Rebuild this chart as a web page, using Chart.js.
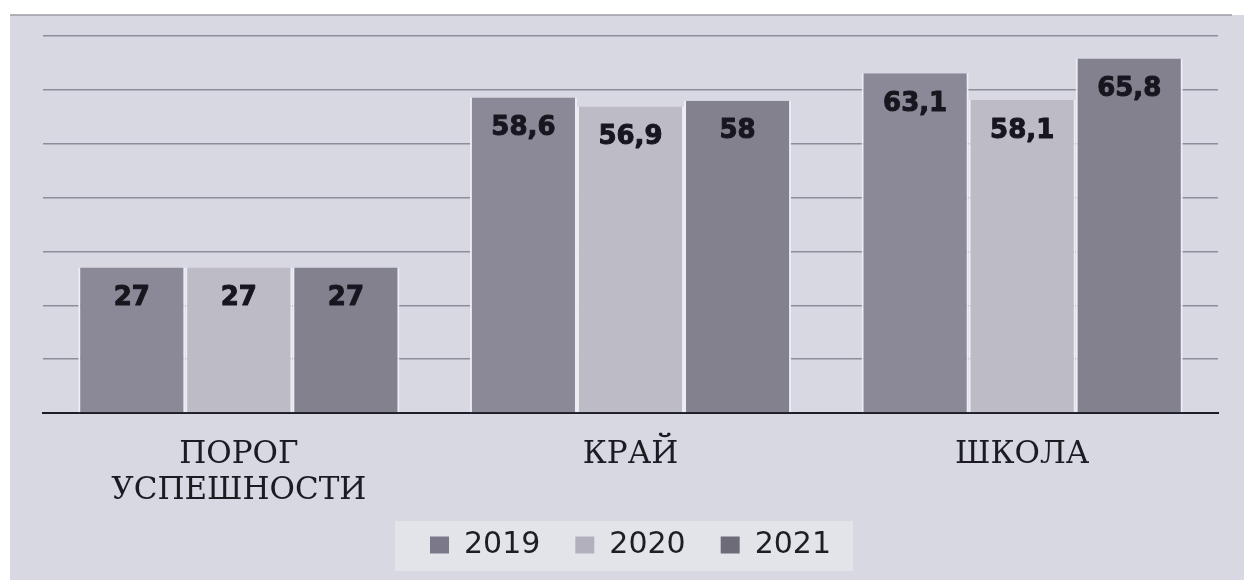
<!DOCTYPE html>
<html>
<head>
<meta charset="utf-8">
<script src="https://cdn.jsdelivr.net/npm/chart.js@4.4.1/dist/chart.umd.min.js"></script>
<style>
  html, body { margin: 0; padding: 0; background: #fff; }
  #wrap { width: 1244px; height: 580px; }
</style>
</head>
<body>
<div id="wrap"><canvas id="barChart" width="1244" height="580"></canvas></div>
<script>
// categories and values
const categories = [["ПОРОГ", "УСПЕШНОСТИ"], "КРАЙ", "ШКОЛА"];
const years = ["2019", "2020", "2021"];
const values2019 = [27, 58.6, 63.1];
const values2020 = [27, 56.9, 58.1];
const values2021 = [27, 58, 65.8];
const yTicks = [0, 10, 20, 30, 40, 50, 60, 70];

const barColors = ["#8b8898", "#bcbbc6", "#84818f"];
const boxColors = ["#7b788a", "#b1b0bc", "#6c6b77"];

// grey scanned-paper background, top rule, legend panel
const paperPlugin = {
  id: "paper",
  beforeDraw(chart) {
    const ctx = chart.ctx;
    ctx.save();
    ctx.fillStyle = "#ffffff";
    ctx.fillRect(0, 0, chart.width, chart.height);
    ctx.fillStyle = "#d7d8e1";
    ctx.fillRect(10, 15, chart.width - 10, chart.height - 15);
    ctx.strokeStyle = "#9c9ca6";
    ctx.lineWidth = 1.5;
    ctx.beginPath();
    ctx.moveTo(10, 15);
    ctx.lineTo(chart.width - 12, 15);
    ctx.stroke();
    const boxes = chart.legend && chart.legend.legendHitBoxes;
    if (boxes && boxes.length) {
      const left = Math.min(...boxes.map(b => b.left)) - 35;
      const right = Math.max(...boxes.map(b => b.left + b.width)) + 22;
      const mid = boxes[0].top + boxes[0].height / 2;
      ctx.fillStyle = "#e3e4ea";
      ctx.fillRect(left, mid - 24, right - left, 50);
    }
    ctx.restore();
  }
};

// value labels inside the top of each bar
const valueLabels = {
  id: "valueLabels",
  afterDatasetsDraw(chart) {
    const ctx = chart.ctx;
    ctx.save();
    ctx.font = "bold 26px 'DejaVu Sans'";
    ctx.fillStyle = "#17161e";
    ctx.strokeStyle = "#17161e";
    ctx.lineWidth = 1;
    ctx.lineJoin = "round";
    ctx.textAlign = "center";
    ctx.textBaseline = "middle";
    chart.data.datasets.forEach((ds, i) => {
      const meta = chart.getDatasetMeta(i);
      meta.data.forEach((bar, j) => {
        const txt = String(ds.data[j]).replace(".", ",");
        ctx.strokeText(txt, bar.x, bar.y + 31);
        ctx.fillText(txt, bar.x, bar.y + 31);
      });
    });
    ctx.restore();
  }
};

const ctx = document.getElementById("barChart").getContext("2d");
const allValues = [values2019, values2020, values2021];

new Chart(ctx, {
  type: "bar",
  data: {
    labels: categories,
    datasets: years.map((y, i) => ({
      label: y,
      data: allValues[i],
      backgroundColor: barColors[i],
      borderColor: "#eceef3",
      borderWidth: { left: 2, right: 2, top: 0, bottom: 0 },
      borderSkipped: false,
      categoryPercentage: 0.82,
      barPercentage: 1
    }))
  },
  options: {
    responsive: false,
    animation: false,
    layout: { padding: { left: 43, right: 26, top: 36, bottom: 10 } },
    scales: {
      x: {
        grid: { display: false, drawTicks: false },
        border: { display: true, color: "#1d1d25", width: 2 },
        ticks: {
          color: "#1c1b22",
          padding: 24,
          font: { family: "'DejaVu Serif'", size: 31, lineHeight: 1.17 }
        },
        afterFit(scale) { scale.height = 97; }
      },
      y: {
        min: yTicks[0],
        max: yTicks[yTicks.length - 1],
        afterBuildTicks(scale) { scale.ticks = yTicks.map(v => ({ value: v })); },
        ticks: { display: false },
        grid: { color: "#8f8c9a", lineWidth: 1.5, drawTicks: false },
        border: { display: false }
      }
    },
    plugins: {
      legend: {
        position: "bottom",
        labels: {
          color: "#1e1e24",
          boxWidth: 19,
          boxHeight: 17,
          padding: 20,
          font: { family: "'DejaVu Sans'", size: 30 },
          generateLabels(chart) {
            const n = chart.data.datasets.length;
            return chart.data.datasets.map((ds, i) => ({
              // en space widens the gap between legend items
              text: i < n - 1 ? ds.label + "\u2002" : ds.label,
              fillStyle: boxColors[i],
              strokeStyle: boxColors[i],
              lineWidth: 0,
              fontColor: "#1e1e24",
              datasetIndex: i
            }));
          }
        }
      },
      tooltip: { enabled: false }
    }
  },
  plugins: [paperPlugin, valueLabels]
});
</script>
</body>
</html>
